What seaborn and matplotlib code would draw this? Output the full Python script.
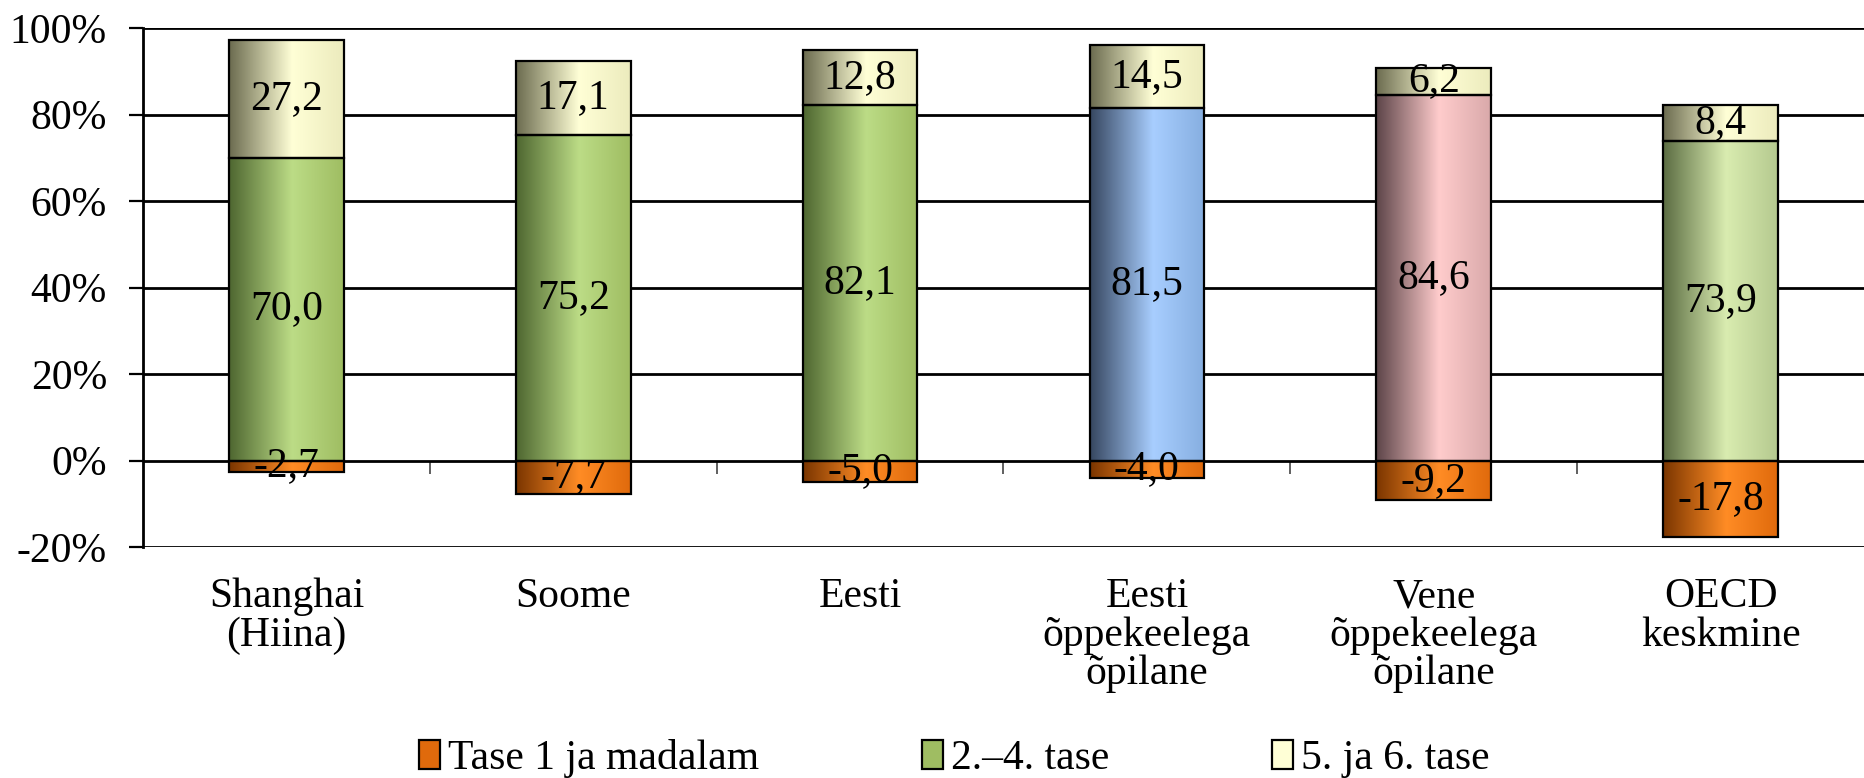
import numpy as np
import pandas as pd
import matplotlib
matplotlib.use("Agg")
import matplotlib.pyplot as plt
import seaborn as sns
from matplotlib.colors import LinearSegmentedColormap
from matplotlib.patches import Patch

# data
categories = ["Shanghai\n(Hiina)", "Soome", "Eesti", "Eesti\nõppekeelega\nõpilane",
              "Vene\nõppekeelega\nõpilane", "OECD\nkeskmine"]
low = [-2.7, -7.7, -5.0, -4.0, -9.2, -17.8]
mid = [70.0, 75.2, 82.1, 81.5, 84.6, 73.9]
high = [27.2, 17.1, 12.8, 14.5, 6.2, 8.4]
series_names = ["Tase 1 ja madalam", "2.–4. tase", "5. ja 6. tase"]
yticks = [-20, 0, 20, 40, 60, 80, 100]
ytick_labels = ["-20%", "0%", "20%", "40%", "60%", "80%", "100%"]

# gradient stops (dark left, light centre, mid right)
grad_low = ["#7a3500", "#ff8c25", "#e06a0c"]
grad_high = ["#6b6b4f", "#ffffd6", "#ecebbd"]
grad_mid = [
    ["#4e6630", "#bcdc86", "#9fbd62"],
    ["#4e6630", "#bcdc86", "#9fbd62"],
    ["#4e6630", "#bcdc86", "#9fbd62"],
    ["#36465f", "#a8ceff", "#86aee0"],
    ["#5c4448", "#ffcccc", "#d9a9aa"],
    ["#5b6c42", "#d9ecb0", "#b5c98f"],
]

sns.set_style("white")
plt.rcParams["font.family"] = ["Liberation Serif", "DejaVu Serif"]
plt.rcParams["text.color"] = "black"
plt.rcParams["xtick.color"] = "black"
plt.rcParams["ytick.color"] = "black"

df = pd.DataFrame({"cat": categories, "low": low, "mid": mid, "high": high})

fig = plt.figure(figsize=(18.64, 7.78), dpi=100)
ax = fig.add_axes([143 / 1864, 1 - 547 / 778, 1 - 143 / 1864, (547 - 28) / 778])

W = 0.40
sns.barplot(data=df, x="cat", y="low", color=grad_low[1], width=W, ax=ax,
            edgecolor="black", linewidth=1.6, zorder=3)
sns.barplot(data=df, x="cat", y="mid", color=grad_mid[0][1], width=W, ax=ax,
            edgecolor="black", linewidth=1.6, zorder=3)
sns.barplot(data=df, x="cat", y="high", bottom=df["mid"], color=grad_high[1], width=W, ax=ax,
            edgecolor="black", linewidth=1.6, zorder=3)

stops = []
stops += [grad_low] * len(categories)
stops += grad_mid
stops += [grad_high] * len(categories)

grad = np.linspace(0, 1, 256)[None, :]
for patch, cols in zip(ax.patches, stops):
    cmap = LinearSegmentedColormap.from_list(
        "g", [(0, cols[0]), (0.55, cols[1]), (1, cols[2])])
    x0, y0 = patch.get_x(), patch.get_y()
    w, h = patch.get_width(), patch.get_height()
    im = ax.imshow(grad, cmap=cmap, aspect="auto", extent=[x0, x0 + w, y0, y0 + h],
                   zorder=2.9, interpolation="bilinear")
    im.set_clip_path(patch)
    patch.set_facecolor("none")

# value labels
fmt = lambda v: f"{v:.1f}".replace(".", ",")
for i in range(len(categories)):
    ax.text(i, low[i] / 2, fmt(low[i]), ha="center", va="center", fontsize=30, zorder=5)
    ax.text(i, mid[i] / 2, fmt(mid[i]), ha="center", va="center", fontsize=30, zorder=5)
    ax.text(i, mid[i] + high[i] / 2, fmt(high[i]), ha="center", va="center", fontsize=30, zorder=5)

ax.set_xlim(-0.5, 5.5)
ax.set_ylim(-20, 100)
ax.set_yticks(yticks)
ax.set_yticklabels(ytick_labels)
ax.yaxis.grid(True, color="black", linewidth=2.0)
ax.set_axisbelow(True)
ax.tick_params(axis="y", labelsize=30, length=10, width=1.6, direction="out", pad=16, left=True)
ax.tick_params(axis="x", labelsize=30, length=0, pad=22)
for lbl in ax.get_xticklabels():
    lbl.set_linespacing(1.0)
ax.set_xlabel("")
ax.set_ylabel("")
for s in ["top", "right", "bottom"]:
    ax.spines[s].set_visible(False)
ax.spines["left"].set_color("black")
ax.spines["left"].set_linewidth(2.0)

# small ticks on the zero line between categories
sec = ax.secondary_xaxis(1 / 6)
sec.set_xticks([0.5, 1.5, 2.5, 3.5, 4.5])
sec.set_xticklabels([])
sec.spines["bottom"].set_visible(False)
sec.tick_params(length=9, width=1.2, direction="out", color="#444444")

handles = [Patch(facecolor=grad_low[2], edgecolor="black", linewidth=1.6),
           Patch(facecolor=grad_mid[0][2], edgecolor="black", linewidth=1.6),
           Patch(facecolor=grad_high[1], edgecolor="black", linewidth=1.6)]
fig.legend(handles, series_names, loc="center", bbox_to_anchor=(0.512, 0.025), ncol=3,
           frameon=False, fontsize=30, handlelength=0.5, handleheight=0.7,
           handletextpad=0.2, columnspacing=3.9)

fig.savefig("out.png", dpi=100)
